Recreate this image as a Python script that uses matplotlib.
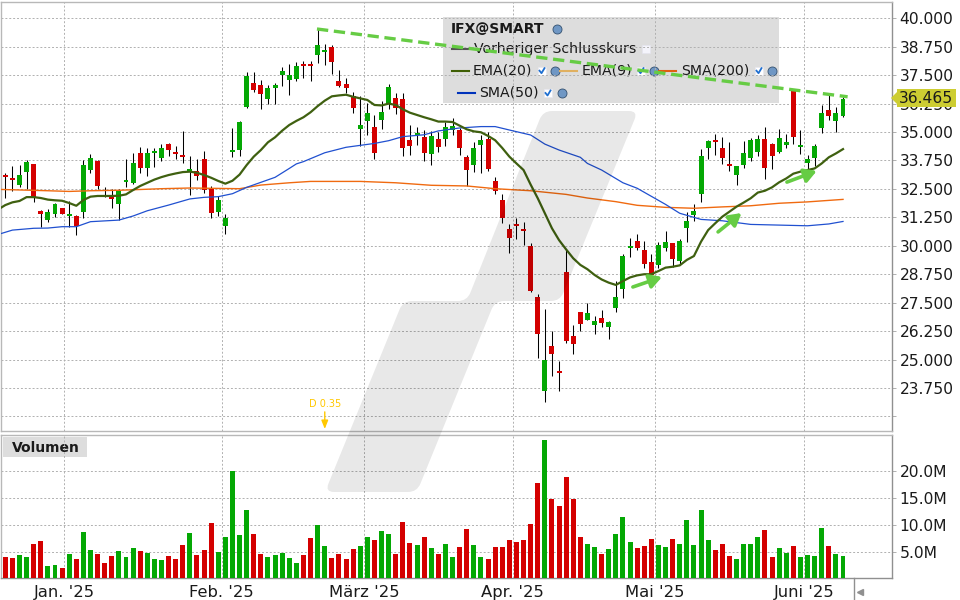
import matplotlib
matplotlib.use('Agg')
import matplotlib.pyplot as plt
import numpy as np
from matplotlib.path import Path
from matplotlib.patches import PathPatch, Polygon, Rectangle

# Kursdaten IFX
opens = [33.11, 32.98, 32.67, 33.24, 33.60, 31.53, 31.13, 31.40, 31.66, 31.31,
         31.31, 31.49, 33.33, 33.73, 32.23, 32.16, 31.84, 32.80, 32.76, 34.08,
         33.42, 34.08, 33.86, 34.47, 34.12, 33.99, 33.29, 33.29, 33.81, 32.50,
         31.49, 30.87, 34.12, 34.21, 36.10, 37.16, 37.07, 36.45, 36.94, 37.51,
         37.29, 37.33, 37.99, 37.99, 38.39, 38.52, 38.74, 37.24, 37.11, 36.58,
         35.13, 35.49, 35.22, 35.53, 36.23, 36.50, 36.45, 34.65, 34.87, 34.78,
         34.03, 34.69, 34.69, 35.09, 35.09, 33.90, 33.55, 34.43, 34.69, 32.85,
         32.01, 30.74, 30.96, 30.74, 29.99, 27.75, 23.62, 25.60, 24.50, 28.85,
         26.03, 27.09, 26.74, 26.52, 26.83, 26.43, 27.27, 28.10, 29.90, 30.21,
         29.81, 29.29, 29.16, 29.90, 30.12, 29.33, 30.78, 31.35, 32.28, 34.30,
         34.65, 34.30, 33.60, 33.11, 33.55, 33.86, 34.12, 34.69, 34.47, 34.12,
         34.43, 36.80, 34.34, 33.64, 33.86, 35.18, 35.97, 35.49, 35.70]
highs = [33.20, 33.51, 33.55, 33.77, 33.60, 31.57, 31.62, 31.88, 31.66, 31.97,
         31.35, 33.77, 34.03, 33.77, 32.58, 32.50, 32.50, 33.81, 34.08, 34.34,
         34.30, 34.30, 34.47, 34.52, 34.39, 35.05, 33.95, 33.81, 34.17, 32.63,
         32.19, 31.40, 35.18, 35.49, 37.64, 37.64, 37.29, 37.07, 37.16, 37.86,
         37.99, 38.08, 38.12, 38.12, 39.53, 38.87, 38.83, 37.73, 37.38, 36.76,
         36.58, 36.28, 35.75, 36.36, 37.11, 36.72, 36.72, 35.31, 35.22, 35.09,
         35.05, 35.00, 35.44, 35.62, 35.18, 33.99, 34.56, 34.87, 35.00, 33.02,
         32.28, 30.96, 31.22, 31.05, 30.12, 27.88, 27.22, 26.25, 24.94, 29.86,
         26.52, 27.09, 27.49, 26.91, 27.18, 26.69, 28.45, 29.64, 30.34, 30.52,
         30.21, 29.64, 30.17, 30.65, 30.12, 30.30, 31.49, 31.84, 34.25, 34.65,
         34.91, 34.78, 34.56, 33.51, 34.61, 34.74, 34.87, 35.22, 34.52, 35.13,
         34.91, 36.85, 35.09, 33.99, 34.47, 36.19, 36.63, 36.10, 36.54]
lows = [32.12, 32.42, 32.60, 32.48, 31.94, 30.84, 31.06, 31.28, 31.40, 30.84,
        30.47, 31.22, 33.21, 32.50, 32.16, 31.66, 31.13, 32.58, 32.72, 33.20,
        33.07, 33.46, 33.73, 33.95, 33.81, 33.64, 32.23, 32.89, 32.32, 31.22,
        31.31, 30.52, 33.90, 33.95, 36.06, 36.76, 36.01, 36.23, 36.23, 37.02,
        36.63, 37.24, 37.38, 37.24, 38.03, 37.95, 37.55, 36.98, 36.72, 35.84,
        34.39, 34.87, 33.81, 35.13, 36.01, 35.79, 33.95, 33.99, 34.43, 33.73,
        33.55, 34.12, 34.39, 34.87, 33.99, 32.63, 33.24, 33.20, 33.29, 32.28,
        31.00, 29.68, 30.30, 30.04, 27.97, 25.07, 23.13, 24.28, 23.62, 25.73,
        25.24, 26.25, 26.74, 26.12, 26.43, 25.90, 27.09, 27.71, 29.51, 29.81,
        29.02, 28.19, 29.02, 29.77, 29.07, 29.20, 30.17, 31.09, 31.92, 33.81,
        33.99, 33.60, 33.29, 32.67, 33.42, 33.73, 33.95, 32.94, 33.38, 34.08,
        34.30, 34.47, 34.03, 33.33, 33.51, 34.96, 35.53, 35.00, 35.66]
closes = [33.02, 32.89, 33.11, 33.68, 32.13, 31.40, 31.49, 31.84, 31.40, 31.40,
          30.87, 33.55, 33.86, 32.63, 32.20, 32.06, 32.41, 32.89, 33.64, 33.42,
          34.08, 34.17, 34.30, 34.21, 34.03, 33.90, 33.38, 33.07, 32.45, 31.44,
          32.01, 31.22, 34.21, 35.44, 37.46, 36.85, 36.67, 36.94, 37.07, 37.68,
          37.51, 37.90, 37.90, 37.90, 38.83, 38.61, 38.08, 37.02, 36.94, 36.06,
          35.31, 35.84, 34.08, 35.88, 36.98, 36.06, 34.30, 34.39, 34.96, 34.08,
          34.83, 34.34, 35.22, 35.27, 34.30, 33.33, 34.30, 34.65, 33.38, 32.41,
          31.22, 30.34, 30.87, 30.65, 28.01, 26.12, 24.98, 25.24, 24.41, 25.81,
          25.68, 26.56, 27.05, 26.69, 26.61, 26.65, 27.75, 29.55, 29.99, 29.90,
          29.20, 28.72, 30.03, 30.17, 29.42, 30.21, 31.09, 31.53, 33.95, 34.61,
          34.56, 33.86, 33.51, 33.51, 34.08, 34.65, 34.69, 33.42, 33.95, 34.74,
          34.56, 34.78, 34.43, 33.81, 34.39, 35.84, 35.70, 35.84, 36.47]

volumes = [4.0, 3.8, 4.4, 4.0, 6.4, 7.0, 2.3, 2.5, 1.9, 4.5,
           3.6, 8.7, 5.3, 4.5, 2.9, 4.2, 5.1, 4.0, 5.7, 5.1,
           4.7, 3.6, 3.4, 4.2, 3.6, 6.2, 8.5, 4.4, 5.3, 10.3,
           4.9, 7.7, 20.1, 8.1, 12.8, 8.3, 4.5, 4.0, 4.4, 4.7,
           3.8, 2.9, 4.4, 7.5, 10.0, 6.0, 3.8, 4.5, 3.6, 5.5,
           6.0, 7.7, 7.2, 8.8, 8.3, 4.5, 10.5, 6.6, 6.2, 7.7,
           5.7, 4.6, 6.5, 4.0, 5.9, 9.2, 6.3, 3.9, 3.7, 5.8,
           5.9, 7.1, 6.7, 7.1, 10.1, 17.9, 25.9, 14.9, 13.5, 19.0,
           14.9, 7.8, 6.5, 5.9, 4.6, 5.4, 8.2, 11.5, 6.7, 5.6,
           6.1, 7.3, 6.3, 5.9, 7.3, 6.5, 10.9, 6.3, 12.8, 7.1,
           5.2, 6.5, 4.2, 3.7, 6.5, 6.5, 7.7, 9.0, 4.0, 5.6,
           4.8, 6.1, 4.0, 4.4, 4.2, 9.4, 6.1, 4.6, 4.2]
volume_dirs = ('rrggrrggrg' 'rggrrrgggr' 'gggrrrgrrr' 'gggggrrggg' 'ggrrggrrrr' 'ggrggrrrgr'
               'grggrrggrr' 'rrrrrrgrrr' 'rrggrggggr' 'rrggrggggg' 'rrrggggrrg' 'grggggrgg')

# EMA(20) beginnt einen Tag vor der ersten Kerze
ema20 = [31.60, 31.79, 31.91, 31.97, 32.14, 32.14, 32.10, 32.03, 32.00, 31.98,
         31.88, 31.76, 32.01, 32.16, 32.19, 32.19, 32.19, 32.20, 32.26, 32.45,
         32.63, 32.77, 32.91, 33.02, 33.11, 33.18, 33.24, 33.26, 33.21, 33.11,
         32.99, 32.85, 32.73, 32.86, 33.13, 33.55, 33.92, 34.21, 34.55, 34.77,
         35.06, 35.31, 35.49, 35.65, 35.87, 36.14, 36.38, 36.57, 36.61, 36.64,
         36.55, 36.48, 36.41, 36.19, 36.17, 36.25, 36.19, 36.00, 35.85, 35.75,
         35.65, 35.56, 35.46, 35.46, 35.44, 35.28, 35.12, 35.03, 34.99, 34.83,
         34.64, 34.30, 33.92, 33.62, 33.33, 32.69, 32.09, 31.43, 30.77, 30.25,
         29.84, 29.45, 29.16, 28.97, 28.72, 28.52, 28.38, 28.28, 28.45, 28.61,
         28.70, 28.75, 28.75, 28.89, 29.04, 29.08, 29.14, 29.38, 29.55, 30.18,
         30.69, 30.99, 31.28, 31.50, 31.72, 31.90, 32.09, 32.34, 32.42, 32.57,
         32.79, 32.96, 33.17, 33.26, 33.33, 33.40, 33.62, 33.89, 34.06, 34.25]
ema20_days = np.arange(-1, 119)

sma50_days = [-1, 1, 4, 6, 8, 10, 12, 16, 18, 20, 23, 26, 28, 30, 32, 34, 36, 38, 40, 41,
              42, 45, 48, 52, 54, 56, 59, 61, 64, 67, 69, 71, 74, 76, 78, 81, 82, 84, 87,
              89, 93, 95, 98, 101, 105, 109, 113, 116, 118]
sma50 = [30.50, 30.69, 30.77, 30.78, 30.84, 30.84, 31.06, 31.13, 31.31, 31.54, 31.79,
         32.06, 32.13, 32.16, 32.29, 32.57, 32.79, 33.01, 33.40, 33.60, 33.70, 34.09,
         34.33, 34.50, 34.62, 34.80, 34.88, 35.05, 35.18, 35.24, 35.24, 35.09, 34.87,
         34.47, 34.21, 33.89, 33.62, 33.33, 32.77, 32.53, 31.82, 31.43, 31.16, 31.10,
         30.94, 30.91, 30.88, 30.96, 31.07]

sma200_days = [-1, 6, 9, 12, 16, 22, 26, 33, 36, 40, 41, 43, 50, 55, 60, 65, 69, 74, 79,
               82, 86, 89, 93, 97, 101, 105, 109, 113, 118]
sma200 = [32.48, 32.42, 32.39, 32.42, 32.44, 32.51, 32.54, 32.51, 32.67, 32.77, 32.79,
          32.83, 32.83, 32.77, 32.66, 32.63, 32.51, 32.42, 32.26, 32.10, 31.94, 31.78,
          31.69, 31.65, 31.71, 31.76, 31.87, 31.93, 32.04]

# Trendlinie und Pfeile
trend_days = [43.9, 118.65]
trend_prices = [39.53, 36.55]
arrows = [((88.4, 28.19), (92.5, 28.63)),
          ((100.4, 30.61), (103.7, 31.44)),
          ((110.1, 32.80), (114.3, 33.29))]

price_ticks = [23.75, 25.0, 26.25, 27.5, 28.75, 30.0, 31.25, 32.5, 33.75, 35.0, 36.25, 37.5, 38.75, 40.0]
volume_ticks = [5, 10, 15, 20]
month_ticks = [8.3, 30.5, 50.5, 71.5, 91.5, 112.5]
month_labels = ["Jan. '25", "Feb. '25", "März '25", "Apr. '25", "Mai '25", "Juni '25"]

GREEN = '#04a804'
RED = '#d40000'
ARROW = '#66cc44'
FRAME = '#b8b8b8'
GRID = '#b0b0b0'
TEXT = '#1a1a1a'

fig = plt.figure(figsize=(9.6, 6), dpi=100, facecolor='white')


def panel(left, top, right, bottom):
    # Achsen aus Pixelkanten
    return fig.add_axes([left / 960, 1 - bottom / 600, (right - left) / 960, (bottom - top) / 600])


# Hintergrund: Legende und Volumen-Titel
bg = panel(0, 0, 960, 600)
bg.set_xlim(0, 960)
bg.set_ylim(600, 0)
bg.axis('off')
bg.add_patch(Rectangle((443, 17), 336, 86, color='#dddddd', lw=0))
bg.add_patch(Rectangle((3, 437), 84, 20, color='#dddddd', lw=0))
bg.text(12, 447.5, 'Volumen', fontsize=10, fontweight='bold', va='center', color=TEXT)
bg.text(451, 29, 'IFX@SMART', fontsize=10, fontweight='bold', va='center', color=TEXT)


def check(x, y):
    bg.plot(x, y, 's', ms=5.5, color='white', mec='#e8e8f0', mew=0.5)
    bg.plot([x - 2.5, x - 0.5, x + 2.5], [y, y + 2.5, y - 2.5], color='#1f6fd0', lw=1.3)


def icon(x, y):
    bg.plot(x, y, 'o', ms=6.5, color='#6f97c4', mec='#33506f', mew=0.6)


label_size = 10.2
bg.plot([452, 468], [49, 49], color='#555555', lw=1.5)
bg.text(474, 49, 'Vorheriger Schlusskurs', fontsize=label_size, va='center', color=TEXT)
bg.plot(646, 49, 's', ms=5.5, color='#f4f4fb', mec='#e4e4ee', mew=0.5)
icon(557, 28.5)

legend_rows = [(452, 70.7, '#3f5f05', 473, 'EMA(20)', 542, 555),
               (560, 70.7, '#e0b060', 582, 'EMA(9)', 641, 654),
               (659, 70.7, '#e06010', 681, 'SMA(200)', 759, 772),
               (458, 93, '#0033bb', 479, 'SMA(50)', 548, 562)]
for x0, y0, col, tx, name, cx, ix in legend_rows:
    bg.plot([x0, x0 + 17], [y0, y0], color=col, lw=1.5)
    bg.text(tx, y0, name, fontsize=label_size, va='center', color=TEXT)
    check(cx, y0)
    icon(ix, y0)

# Kurs-Panel
ax = panel(1, 2, 892, 430.7)
ax.patch.set_alpha(0)
days = np.arange(len(closes))

ax.vlines(days, lows, highs, color='black', lw=0.75, zorder=3)
body_colors = [GREEN if c >= o else RED for o, c in zip(opens, closes)]
ax.bar(days, np.array(closes) - np.array(opens), bottom=opens, width=0.7, color=body_colors, lw=0, zorder=4)

ax.plot(sma200_days, sma200, color='#f06a10', lw=1.0, zorder=5)
ax.plot(sma50_days, sma50, color='#2050d0', lw=0.9, zorder=5)
ax.plot(ema20_days, ema20, color='#3f6010', lw=1.6, zorder=6)
ax.plot(trend_days, trend_prices, color=ARROW, lw=2.4, dashes=(3.4, 1.7), zorder=7)
for start, end in arrows:
    ax.annotate('', xy=end, xytext=start, zorder=7,
                arrowprops=dict(arrowstyle='-|>,head_length=0.55,head_width=0.32', color=ARROW,
                                lw=2.6, shrinkA=0, shrinkB=0, mutation_scale=13))

ax.set_xlim(-0.606, 124.9)
ax.set_ylim(21.873, 40.716)
ax.set_xticks(month_ticks)
ax.set_xticklabels([])
ax.set_yticks(price_ticks + [22.5])
ax.set_yticklabels(['%.3f' % p for p in price_ticks] + [''])
ax.yaxis.tick_right()
ax.tick_params(axis='x', length=0)
ax.tick_params(axis='y', length=3, width=0.7, color=GRID, labelsize=11.2, labelcolor=TEXT, pad=2.4)
ax.grid(True, color=GRID, lw=0.7, linestyle=(0, (2, 2)), zorder=1)
ax.set_axisbelow(True)

# Dividende
div_day = 45
ax.annotate('', xy=(div_day, 21.95), xytext=(div_day, 22.7),
            arrowprops=dict(arrowstyle='-|>,head_length=0.5,head_width=0.2', color='#ffc800', lw=1,
                            shrinkA=0, shrinkB=0, mutation_scale=10))
ax.text(div_day, 23.06, 'D 0.35', color='#ffc800', fontsize=7, ha='center', va='center')

# Volumen-Panel
vol = panel(1, 435.3, 892, 578.3)
vol.patch.set_alpha(0)
vol.bar(days, volumes, width=0.7, color=[GREEN if d == 'g' else RED for d in volume_dirs], lw=0, zorder=3)
vol.set_xlim(-0.606, 124.9)
vol.set_ylim(0, 26.73)
vol.set_xticks(month_ticks)
vol.set_xticklabels(month_labels)
vol.set_yticks(volume_ticks)
vol.set_yticklabels(['%.1fM' % v for v in volume_ticks])
vol.yaxis.tick_right()
vol.tick_params(axis='x', length=0, labelsize=11.8, labelcolor=TEXT, pad=5)
vol.tick_params(axis='y', length=3, width=0.7, color=GRID, labelsize=11.2, labelcolor=TEXT, pad=2.4)
vol.grid(True, color=GRID, lw=0.7, linestyle=(0, (2, 2)), zorder=1)
vol.set_axisbelow(True)

for a in (ax, vol):
    for s in a.spines.values():
        s.set_color(FRAME)
        s.set_linewidth(1.0)
ax.spines['right'].set_color('#909090')
vol.spines['right'].set_color('#909090')
vol.spines['bottom'].set_color('#909090')

# Obere Ebene: Wasserzeichen, Kursschild
over = panel(0, 0, 960, 600)
over.set_xlim(0, 960)
over.set_ylim(600, 0)
over.axis('off')


def rounded(points, r):
    verts, codes = [], []
    pts = np.array(points, dtype=float)
    n = len(pts)
    for k in range(n):
        p, prev, nxt = pts[k], pts[k - 1], pts[(k + 1) % n]
        a = p + (prev - p) / np.linalg.norm(prev - p) * r
        b = p + (nxt - p) / np.linalg.norm(nxt - p) * r
        verts += [a, p, b]
        codes += [Path.MOVETO if k == 0 else Path.LINETO, Path.CURVE3, Path.CURVE3]
    verts.append(verts[0])
    codes.append(Path.CLOSEPOLY)
    return Path(verts, codes)


mark = [(543, 111), (638, 111), (560, 301), (495, 301), (417, 492), (325, 492), (403, 301), (467, 301)]
over.add_patch(PathPatch(rounded(mark, 9), facecolor='black', alpha=0.09, lw=0))

over.add_patch(Polygon([(891, 98), (897, 92), (897, 89), (956, 89), (956, 107), (897, 107), (897, 104)],
                       closed=True, facecolor='#cdcd32', edgecolor='none'))
over.text(925.5, 98.3, '36.465', fontsize=11.2, ha='center', va='center', color=TEXT)
over.plot([854, 854], [578, 600], color='#909090', lw=1)
over.plot(860, 592, marker='<', ms=5, color='#909090')

fig.savefig('out.png', dpi=100)
